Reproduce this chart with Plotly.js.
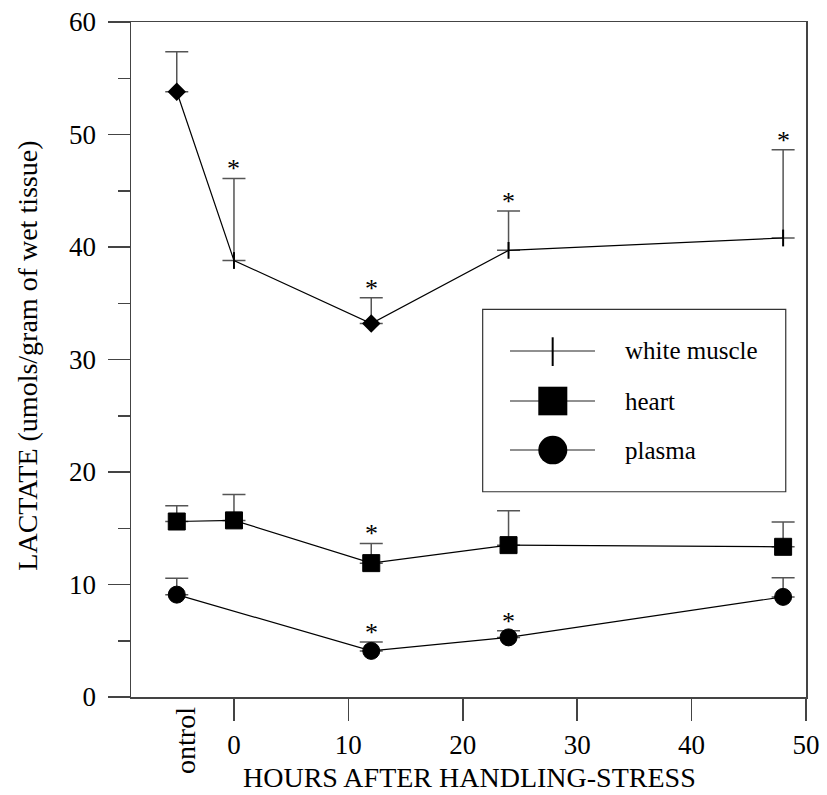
<!DOCTYPE html>
<html>
<head>
<meta charset="utf-8">
<script src="https://cdn.plot.ly/plotly-3.0.1.min.js"></script>
<style>html,body{margin:0;padding:0;background:#fff;}</style>
</head>
<body>
<div id="chart" style="width:827px;height:795px;"></div>
<script>
// ---- data ----
const xWhite = [-5, 0, 12, 24, 48];
const whiteMean = [53.8, 38.8, 33.2, 39.7, 40.8];
const whiteSE = [3.55, 7.3, 2.3, 3.5, 7.85];
const whiteSig = [0, 1, 1, 1, 1];

const xHeart = [-5, 0, 12, 24, 48];
const heartMean = [15.6, 15.7, 11.9, 13.5, 13.35];
const heartSE = [1.4, 2.3, 1.75, 3.05, 2.2];
const heartSig = [0, 0, 1, 0, 0];

const xPlasma = [-5, 12, 24, 48];
const plasmaMean = [9.1, 4.1, 5.3, 8.9];
const plasmaSE = [1.45, 0.8, 0.6, 1.7];
const plasmaSig = [0, 1, 1, 0];

const xTickVals = [0, 10, 20, 30, 40, 50];
const xTickText = ['0', '10', '20', '30', '40', '50'];
const yTickVals = [0, 10, 20, 30, 40, 50, 60];
const controlLabel = 'ontrol';
const legendNames = ['white muscle', 'heart', 'plasma'];
const xTitle = 'HOURS AFTER HANDLING-STRESS';
const yTitle = 'LACTATE (umols/gram of wet tissue)';

// ---- styling ----
const FONT = 'Liberation Serif';
const AX = '#444';
const ERR = '#555';

function zeros(n) { return new Array(n).fill(0); }

const traces = [
  {
    type: 'scatter', mode: 'lines+markers', name: legendNames[0],
    x: xWhite, y: whiteMean,
    line: {color: '#000', width: 1.2},
    marker: {symbol: ['diamond', 'line-ns', 'diamond', 'line-ns', 'line-ns'], size: 12, color: '#000',
             line: {color: '#000', width: 2}},
    error_y: {type: 'data', symmetric: false, array: whiteSE, arrayminus: zeros(whiteSE.length),
              color: ERR, thickness: 1.5, width: 11.5}
  },
  {
    type: 'scatter', mode: 'lines+markers', name: legendNames[1],
    x: xHeart, y: heartMean,
    line: {color: '#000', width: 1.2},
    marker: {symbol: 'square', size: 17, color: '#000', line: {color: '#000', width: 1}},
    error_y: {type: 'data', symmetric: false, array: heartSE, arrayminus: zeros(heartSE.length),
              color: ERR, thickness: 1.5, width: 11.5}
  },
  {
    type: 'scatter', mode: 'lines+markers', name: legendNames[2],
    x: xPlasma, y: plasmaMean,
    line: {color: '#000', width: 1.2},
    marker: {symbol: 'circle', size: 17, color: '#000', line: {color: '#000', width: 1}},
    error_y: {type: 'data', symmetric: false, array: plasmaSE, arrayminus: zeros(plasmaSE.length),
              color: ERR, thickness: 1.5, width: 11.5}
  }
];

// significance stars above the error caps
const annotations = [];
function addStars(xs, means, ses, sig) {
  xs.forEach((xv, i) => {
    if (sig[i]) {
      annotations.push({x: xv, y: means[i] + ses[i], xref: 'x', yref: 'y', text: '*',
        showarrow: false, yanchor: 'bottom', yshift: -7,
        font: {family: FONT, size: 26, color: '#000'}});
    }
  });
}
addStars(xWhite, whiteMean, whiteSE, whiteSig);
addStars(xHeart, heartMean, heartSE, heartSig);
addStars(xPlasma, plasmaMean, plasmaSE, plasmaSig);

// axis titles and the control label
annotations.push({x: 0.502, y: -0.1452, xref: 'paper', yref: 'paper', text: xTitle, showarrow: false,
  xanchor: 'center', yanchor: 'bottom', font: {family: FONT, size: 28, color: '#000'}});
annotations.push({x: -0.1533, y: 0.505, xref: 'paper', yref: 'paper', text: yTitle, showarrow: false,
  textangle: -90, xanchor: 'center', yanchor: 'middle', font: {family: FONT, size: 28, color: '#000'}});
annotations.push({x: -4.2, y: -0.0637, xref: 'x', yref: 'paper', text: controlLabel, showarrow: false,
  textangle: -90, xanchor: 'center', yanchor: 'middle', font: {family: FONT, size: 28, color: '#000'}});

// custom legend (paper coordinates)
const legRows = [0.5126, 0.4385, 0.3659];
legendNames.forEach((nm, i) => {
  annotations.push({x: 0.7293, y: legRows[i], xref: 'paper', yref: 'paper', text: nm, showarrow: false,
    xanchor: 'left', yanchor: 'middle', font: {family: FONT, size: 25, color: '#000'}});
});

const shapes = [
  {type: 'rect', xref: 'paper', yref: 'paper', x0: 0.521, x1: 0.970, y0: 0.3041, y1: 0.5744,
   line: {color: '#333', width: 1.2}, fillcolor: 'rgba(0,0,0,0)'}
];
legRows.forEach(yv => {
  shapes.push({type: 'line', xref: 'paper', yref: 'paper', x0: 0.5615, x1: 0.6874, y0: yv, y1: yv,
    line: {color: '#222', width: 1.2}});
});
shapes.push({type: 'line', xref: 'paper', yref: 'paper', x0: 0.6247, x1: 0.6247, y0: 0.4904, y1: 0.5329,
  line: {color: '#000', width: 2}});
shapes.push({type: 'rect', xref: 'paper', yref: 'paper', x0: 0.6034, x1: 0.6464, y0: 0.4173, y1: 0.4597,
  line: {color: '#000', width: 0}, fillcolor: '#000'});
shapes.push({type: 'circle', xref: 'paper', yref: 'paper', x0: 0.6034, x1: 0.6464, y0: 0.3447, y1: 0.3871,
  line: {color: '#000', width: 0}, fillcolor: '#000'});

const axisCommon = {
  ticks: 'outside', ticklen: 22, tickwidth: 1.5, tickcolor: AX,
  showline: true, linecolor: AX, linewidth: 1.5, mirror: true,
  showgrid: false, zeroline: false,
  tickfont: {family: FONT, size: 27, color: '#000'}
};

const layout = {
  width: 827, height: 795,
  margin: {l: 131, r: 21, t: 22, b: 98},
  paper_bgcolor: '#fff', plot_bgcolor: '#fff',
  font: {family: FONT, color: '#000'},
  showlegend: false,
  xaxis: Object.assign({}, axisCommon, {range: [-9, 50], tickmode: 'array', tickvals: xTickVals, ticktext: xTickText,
    ticklabelstandoff: 1}),
  yaxis: Object.assign({}, axisCommon, {range: [0, 60], tickmode: 'array', tickvals: yTickVals,
    ticklabelstandoff: 6,
    minor: {ticks: 'outside', ticklen: 12, tickwidth: 1.5, tickcolor: AX, dtick: 5, tick0: 0, showgrid: false}}),
  annotations: annotations,
  shapes: shapes
};

Plotly.newPlot('chart', traces, layout, {displayModeBar: false, staticPlot: true});
</script>
</body>
</html>
